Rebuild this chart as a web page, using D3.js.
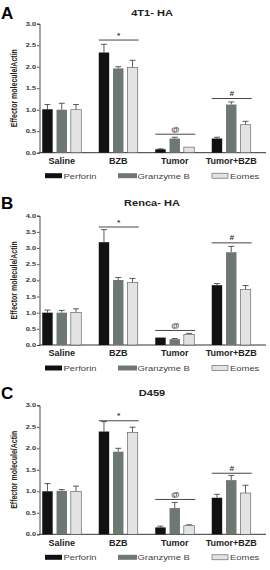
<!DOCTYPE html>
<html><head><meta charset="utf-8">
<script src="https://cdn.jsdelivr.net/npm/d3@7"></script>
<style>body{margin:0;background:#fff}svg{display:block}</style>
</head><body><svg id="c" width="270" height="570"></svg>
<script>
const categories = ["Saline","BZB","Tumor","Tumor+BZB"];
const series = ["Perforin","Granzyme B","Eomes"];
const colors = ["#111111","#6e7873","#e3e3e3"];
// panel A: 4T1- HA
const aMean = [[1.01,1.00,1.00],[2.33,1.96,1.98],[0.08,0.33,0.13],[0.33,1.12,0.65]];
const aErr  = [[1.12,1.15,1.12],[2.52,2.00,2.15],[0.09,0.36,0.13],[0.36,1.18,0.73]];
const aSig  = [null,["*",2.62],["@",0.43],["#",1.26]];
const aTicks = [0,0.5,1.0,1.5,2.0,2.5,3.0];
// panel B: Renca- HA
const bMean = [[1.00,1.00,1.01],[3.18,2.01,1.94],[0.23,0.18,0.33],[1.85,2.87,1.72]];
const bErr  = [[1.08,1.07,1.12],[3.57,2.09,2.06],[0.23,0.20,0.36],[1.90,3.05,1.84]];
const bSig  = [null,["*",3.65],["@",0.45],["#",3.16]];
const bTicks = [0,0.5,1.0,1.5,2.0,2.5,3.0,3.5,4.0];
// panel C: D459
const cMean = [[1.00,1.01,1.00],[2.39,1.92,2.37],[0.16,0.61,0.20],[0.85,1.26,0.96]];
const cErr  = [[1.18,1.04,1.12],[2.62,2.00,2.49],[0.19,0.74,0.22],[0.93,1.37,1.14]];
const cSig  = [null,["*",2.64],["@",0.81],["#",1.42]];
const cTicks = [0,0.5,1.0,1.5,2.0,2.5,3.0];

const panels = [
  {letter:"A", title:"4T1- HA", mean:aMean, err:aErr, sig:aSig, ticks:aTicks, max:3, y0:152.7, y1:23.7, top:0},
  {letter:"B", title:"Renca- HA", mean:bMean, err:bErr, sig:bSig, ticks:bTicks, max:4, y0:345, y1:215.7, top:190},
  {letter:"C", title:"D459", mean:cMean, err:cErr, sig:cSig, ticks:cTicks, max:3, y0:534.3, y1:405.3, top:380}
];

const svg = d3.select("#c");
const font = "Arial, 'Liberation Sans', sans-serif";
const x = d3.scaleBand().domain(categories).range([33.5,259.5]).padding(0);
const xi = d3.scaleBand().domain(series).range([-19.5,19.5]).paddingInner(0.27).paddingOuter(0);
const axX = 39.5;

function txt(g, str, tx, ty, size, sx, opts) {
  opts = opts || {};
  return g.append("text")
    .attr("transform", `translate(${tx},${ty}) scale(${sx},1)` + (opts.rot ? ` rotate(${opts.rot})` : ""))
    .attr("text-anchor", opts.anchor || "start")
    .attr("font-family", font).attr("font-size", size)
    .attr("font-weight", opts.bold ? "bold" : "normal")
    .attr("fill", opts.fill || "#222").text(str);
}

panels.forEach(p => {
  const g = svg.append("g");
  const y = d3.scaleLinear().domain([0,p.max]).range([p.y0,p.y1]);
  txt(g, p.letter, 1, p.top+19, 17, 1, {bold:true, fill:"#000"});
  txt(g, p.title, 152, p.top+16, 8.5, 1.3, {bold:true, anchor:"middle"});
  // y axis
  const ya = g.append("g").attr("transform",`translate(${axX},0)`)
    .call(d3.axisLeft(y).tickValues(p.ticks).tickFormat(d3.format(".1f")).tickSize(2.5).tickPadding(1.5));
  ya.select(".domain").attr("stroke","#333").attr("stroke-width",0.9);
  ya.selectAll(".tick line").attr("stroke","#333").attr("stroke-width",0.8);
  ya.selectAll(".tick text").remove();
  p.ticks.forEach(t => txt(g, d3.format(".1f")(t), 36, y(t)+2, 5.5, 1.35, {bold:true, anchor:"end", fill:"#333"}));
  // y label
  txt(g, "Effector molecule/Actin", 16.5, (p.y0+p.y1)/2, 7, 1.3, {bold:true, anchor:"middle", rot:-90});
  // x axis line
  g.append("line").attr("x1",axX).attr("x2",266).attr("y1",p.y0).attr("y2",p.y0).attr("stroke","#333").attr("stroke-width",1);
  categories.forEach((cat,ci) => {
    series.forEach((s,si) => {
      const cx = x(cat)+x.bandwidth()/2 + xi(s);
      const v = p.mean[ci][si], e = p.err[ci][si];
      const mx = cx + xi.bandwidth()/2;
      if (e > v) {
        g.append("line").attr("x1",mx).attr("x2",mx).attr("y1",y(v)).attr("y2",y(e)).attr("stroke","#333").attr("stroke-width",0.8);
        g.append("line").attr("x1",mx-3).attr("x2",mx+3).attr("y1",y(e)).attr("y2",y(e)).attr("stroke","#333").attr("stroke-width",0.8);
      }
      g.append("rect").attr("x",cx).attr("y",y(v)).attr("width",xi.bandwidth()).attr("height",p.y0-y(v))
        .attr("fill",colors[si]).attr("stroke", si===2 ? "#555" : "none").attr("stroke-width",0.6);
    });
    txt(g, cat, x(cat)+x.bandwidth()/2, p.y0+11.2, 8.2, 1.1, {bold:true, anchor:"middle"});
    const sg = p.sig[ci];
    if (sg) {
      const xl = x(cat)+x.bandwidth()/2 + xi(series[0]);
      const xr = x(cat)+x.bandwidth()/2 + xi(series[2]) + xi.bandwidth() + 1;
      g.append("line").attr("x1",xl).attr("x2",xr).attr("y1",y(sg[1])).attr("y2",y(sg[1])).attr("stroke","#333").attr("stroke-width",0.9);
      txt(g, sg[0], (xl+xr)/2, y(sg[1])-2.5, sg[0]==="*" ? 7 : 7, 1.2, {bold:true, anchor:"middle", fill:"#333"});
    }
  });
  // legend
  const legX = [45,118,212], legW=[17,19,16], legT=[63.5,137.5,230];
  series.forEach((s,si) => {
    const ly = p.y0+23;
    g.append("rect").attr("x",legX[si]).attr("y",ly-2.5).attr("width",legW[si]).attr("height",5)
      .attr("fill",colors[si]).attr("stroke", si===2 ? "#555" : "none").attr("stroke-width",0.6);
    txt(g, s, legT[si], ly+2.8, 8, 1.18, {fill:"#444"});
  });
});
</script></body></html>
